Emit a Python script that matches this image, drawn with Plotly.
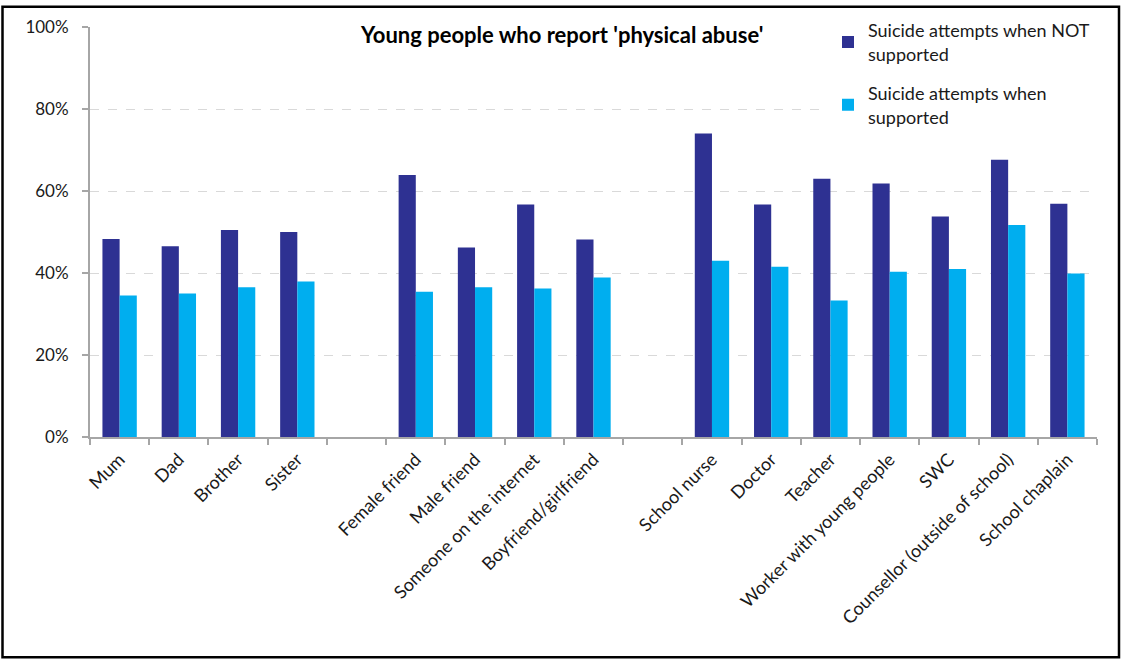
import plotly.graph_objects as go

# categories (the two blank ones are the gaps between groups)
categories = ["Mum", "Dad", "Brother", "Sister", " ",
              "Female friend", "Male friend", "Someone on the internet", "Boyfriend/girlfriend", "  ",
              "School nurse", "Doctor", "Teacher", "Worker with young people", "SWC",
              "Counsellor (outside of school)", "School chaplain"]

not_supported = [0.483, 0.465, 0.505, 0.500, None,
                 0.639, 0.462, 0.567, 0.482, None,
                 0.740, 0.567, 0.630, 0.618, 0.538, 0.676, 0.569]
supported = [0.345, 0.350, 0.365, 0.379, None,
             0.354, 0.365, 0.362, 0.389, None,
             0.430, 0.415, 0.333, 0.403, 0.410, 0.517, 0.399]

series_names = ["Suicide attempts when NOT<br>supported", "Suicide attempts when<br>supported"]
title_text = "Young people who report 'physical abuse'"

DARK = "#2E3192"
LIGHT = "#00AEEF"
FONT = "Lato"

fig = go.Figure()
fig.add_trace(go.Bar(x=categories, y=not_supported, name=series_names[0],
                     marker=dict(color=DARK, line=dict(width=0)), legendgroup="a"))
fig.add_trace(go.Bar(x=categories, y=supported, name=series_names[1],
                     marker=dict(color=LIGHT, line=dict(width=0)), legendgroup="b"))

W, H = 1121, 662
ml, mr, mt, mb = 90, 24, 23, 225
pw, ph = W - ml - mr, H - mt - mb

def px(x):
    return (x - ml) / pw

def py(y):
    return (H - mb - y) / ph

fig.update_layout(
    width=W, height=H,
    margin=dict(l=ml, r=mr, t=mt, b=mb, pad=0),
    paper_bgcolor="white", plot_bgcolor="white",
    font=dict(family=FONT, size=16, color="#1a1a1a"),
    barmode="group", bargap=0.42, bargroupgap=0,
    showlegend=True,
    legend=dict(x=px(828), y=py(8), xanchor="left", yanchor="top",
                bgcolor="white", font=dict(family=FONT, size=18),
                tracegroupgap=13, itemwidth=30, traceorder="grouped"),
    xaxis=dict(type="category", tickson="boundaries", ticks="outside", ticklen=6,
               tickcolor="#A6A6A6", tickwidth=1.5, showline=True, linecolor="#A6A6A6",
               linewidth=2, showgrid=False, tickangle=-45, automargin=False,
               ticklabelstandoff=3,
               tickfont=dict(family=FONT, size=18), fixedrange=True),
    yaxis=dict(range=[0, 1], dtick=0.2, tickformat=".0%", ticks="outside", ticklen=6,
               tickcolor="#A6A6A6", tickwidth=1.5, showline=True, linecolor="#A6A6A6",
               linewidth=2, showgrid=True, gridcolor="#D9D9D9", griddash="dash",
               gridwidth=1, zeroline=False, automargin=False, ticklabelstandoff=10,
               tickfont=dict(family=FONT, size=17)),
)

fig.add_annotation(x=px(561), y=py(31), xref="paper", yref="paper", text="<b>" + title_text + "</b>",
                   showarrow=False, bgcolor="white", font=dict(family=FONT, size=22, color="black"),
                   xanchor="center", yanchor="middle")

# outer border
fig.add_shape(type="rect", xref="paper", yref="paper",
              x0=px(2.5), x1=px(1119), y0=py(659.5), y1=py(2.5),
              line=dict(color="black", width=2.5), fillcolor="rgba(0,0,0,0)", layer="above")

fig.write_html("out.html", config={"displayModeBar": False},
               post_script="document.body.style.margin='0';")
